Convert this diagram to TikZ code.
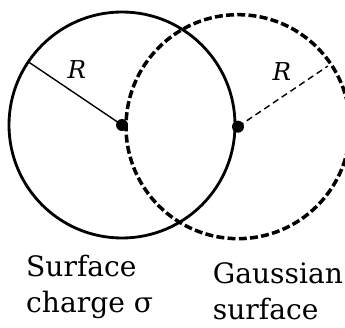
\documentclass[tikz,border=0pt]{standalone}
\usepackage{fontspec}
\setmainfont{DejaVu Serif}
\usepackage{tikz}
\tikzset{
  chargeLine/.style={line width=2.4pt},
  gaussLine/.style={line width=3pt, dash pattern=on 6.8pt off 2.8pt},
  radiusLine/.style={line width=1.2pt},
  radiusLabel/.style={font=\fontsize{21}{21}\selectfont\itshape},
  bigLabel/.style={font=\fontsize{24}{31.5}\selectfont, align=left, inner sep=0pt, anchor=base west}
}

\begin{document}
\begin{tikzpicture}[scale=1.0]
        \useasboundingbox (-3.66,-6.09) rectangle (6.69,3.75);
        % Centres and radius ends
        \coordinate (O) at (0,0);
        \coordinate (G) at (3.48,-0.05);
        \coordinate (P) at (146:3.39);
        \coordinate (Q) at ([shift={(G)}]34:3.25);

        \draw[chargeLine] (O) circle (3.39);
        \draw[gaussLine] (G) circle (3.36);
        \draw[radiusLine] (O) -- (P);
        \draw[radiusLine, dash pattern=on 5.5pt off 3.5pt] (G) -- (Q);

        \foreach \p in {O,G}
          \fill (\p) circle (0.18);

        \node[radiusLabel] (rOne) at (-1.35,1.65) {R};
        \node[radiusLabel] (rTwo) at (4.80,1.59) {R};

        % last-line baselines
        \node[bigLabel] (charge) at (-2.88,-5.64) {Surface\\charge σ};
        \node[bigLabel] (gauss) at (2.72,-5.85) {Gaussian\\surface};
      \end{tikzpicture}
\end{document}
